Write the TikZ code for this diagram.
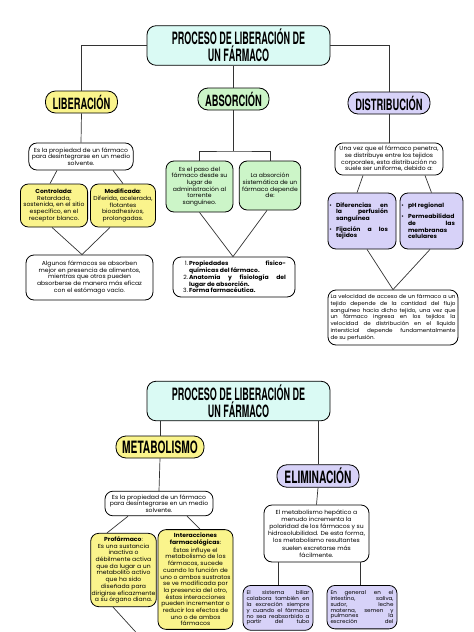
\documentclass[tikz,border=0pt]{standalone}
\usepackage{fontspec}
\setmainfont[FakeStretch=1.05]{Poppins}
\newfontfamily\titlefont[FakeStretch=0.53]{TeX Gyre Heros}
\newfontfamily\headfont[FakeStretch=0.6]{TeX Gyre Heros}
\hyphenpenalty=10000

\definecolor{cyanfill}{RGB}{218,250,244}
\definecolor{yellowfill}{RGB}{250,244,140}
\definecolor{greenfill}{RGB}{204,245,200}
\definecolor{lavfill}{RGB}{215,210,248}

\begin{document}
\begin{tikzpicture}[x=1pt,y=-1pt,
  titlebox/.style={draw,line width=0.8pt,fill=cyanfill,rounded corners=9pt,align=center,
    font=\titlefont\bfseries\fontsize{17}{17}\selectfont,minimum width=183pt,minimum height=36pt},
  headbox/.style={draw,line width=0.8pt,rounded corners=10pt,
    font=\headfont\bfseries\fontsize{15.5}{15.5}\selectfont,minimum height=22pt},
  notebox/.style={draw,line width=0.8pt,fill=white,rounded corners=8pt,align=center,inner xsep=3pt,
    font=\fontsize{5.8}{6.7}\selectfont},
  link/.style={draw=black!80,line width=0.7pt}]
  \useasboundingbox (0,0) rectangle (474,632);

  % page 1
  \node[titlebox] (tit1) at (238.5,45.5) {PROCESO DE LIBERACIÓN DE\\UN FÁRMACO};

  \node[headbox,fill=yellowfill,minimum width=72pt] (lib) at (81.5,102) {LIBERACIÓN};
  \node[headbox,fill=greenfill,minimum width=71pt] (abs) at (233.5,99) {ABSORCIÓN};
  \node[headbox,fill=lavfill,minimum width=82pt] (dist) at (389,103) {DISTRIBUCIÓN};

  \node[notebox,minimum width=104pt,minimum height=27pt] (lib1) at (81,156.5)
    {Es la propiedad de un fármaco\\para desintegrarse en un medio\\solvente.};
  \node[notebox,fill=yellowfill,minimum width=66pt,minimum height=43pt] (libc) at (54,205.5)
    {\textbf{Controlada}:\\Retardada,\\sostenida, en el sitio\\específico, en el\\receptor blanco.};
  \node[notebox,fill=yellowfill,minimum width=62pt,minimum height=43pt] (libm) at (123,205.5)
    {\textbf{Modificada}:\\Diferida, acelerada,\\flotantes\\bioadhesivos,\\prolongadas.};
  \node[notebox,minimum width=127pt,minimum height=45pt] (lib2) at (89.5,277.5)
    {Algunos fármacos se absorben\\mejor en presencia de alimentos,\\mientras que otros pueden\\absorberse de manera más eficaz\\con el estómago vacío.};

  \node[notebox,fill=greenfill,minimum width=67pt,minimum height=51pt] (absp) at (199.5,186.5)
    {Es el paso del\\fármaco desde su\\lugar de\\administración al\\torrente\\sanguíneo.};
  \node[notebox,fill=greenfill,minimum width=57pt,minimum height=49pt] (abss) at (270,185.5)
    {La absorción\\sistemática de un\\fármaco depende\\de:};
  \node[notebox,text width=104pt,inner xsep=9pt,minimum height=40pt,align=justify] (abs2) at (234,277)
    {\hangindent=7pt\hangafter=0\noindent\llap{1.\,}\textbf{Propiedades fisico-\linebreak químicas del fármaco.}\par
     \hangindent=7pt\hangafter=0\noindent\llap{2.\,}\textbf{Anatomía y fisiología del\linebreak lugar de absorción.}\par
     \hangindent=7pt\hangafter=0\noindent\llap{3.\,}\textbf{Forma farmacéutica.}\par};

  \node[notebox,minimum width=108pt,minimum height=32pt] (dist1) at (389,159)
    {Una vez que el fármaco penetra,\\se distribuye entre los tejidos\\corporales, esta distribución no\\suele ser uniforme, debido a:};
  \node[notebox,fill=lavfill,text width=52pt,inner xsep=8pt,minimum height=56pt,align=justify] (distl) at (362,221)
    {\noindent\llap{•\hspace{4pt}}\textbf{Diferencias en\linebreak la perfusión\linebreak sanguínea}\par\vspace{4pt}
     \noindent\llap{•\hspace{4pt}}\textbf{Fijación a los\linebreak tejidos}};
  \node[notebox,fill=lavfill,text width=47pt,inner xsep=8pt,minimum height=56pt,align=justify] (distr) at (431.5,221)
    {\noindent\llap{•\hspace{4pt}}\textbf{pH regional}\par\vspace{4pt}
     \noindent\llap{•\hspace{4pt}}\textbf{Permeabilidad\linebreak de las\linebreak membranas\newline celulares}};
  \node[notebox,text width=125pt,inner xsep=2.5pt,minimum height=55pt,align=justify,font=\fontsize{5.35}{6.7}\selectfont] (dist2) at (393,317.5)
    {La velocidad de acceso de un fármaco a un\linebreak tejido depende de la cantidad del flujo\linebreak
     sanguíneo hacia dicho tejido, una vez que\linebreak un fármaco ingresa en los tejidos la\linebreak
     velocidad de distribución en el líquido\linebreak intersticial depende fundamentalmente\linebreak de su perfusión.};

  \draw[link] (tit1.west) -| (lib.north);
  \draw[link] (tit1.east) -| (dist.north);
  \draw[link] (abs.north) -- (abs.north |- tit1.south);
  \draw[link] (lib.south) -- (lib1.north);
  \draw[link] ([xshift=-24pt]lib1.south) -- ([xshift=-4pt]libc.north);
  \draw[link] ([xshift=32pt]lib1.south) -- (libm.north);
  \draw[link] ([xshift=-2pt]libc.south) -- ([xshift=-7.5pt]lib2.north) -- ([xshift=-13pt]libm.south);
  \coordinate (absj) at (233.5,151);
  \draw[link] (abs.south) -- (absj);
  \draw[link] (absp.north) |- (absj) -| (abss.north);
  \draw[link] (absp.south) -- ([xshift=-1pt]abs2.north) -- ([xshift=-3pt]abss.south);
  \draw[link] (dist.south) -- (dist1.north);
  \draw[link] ([xshift=-26pt]dist1.south) -- ([xshift=-5pt]distl.north);
  \draw[link] ([xshift=36pt]dist1.south) -- (distr.north);
  \draw[link] ([xshift=5pt]distl.south) -- (dist2.north) -- ([xshift=-1.5pt]distr.south);

  % page 2
  \node[titlebox] (tit2) at (238.5,401) {PROCESO DE LIBERACIÓN DE\\UN FÁRMACO};

  \node[headbox,fill=yellowfill,minimum width=88pt,font=\headfont\bfseries\fontsize{17}{17}\selectfont] (met) at (160,447) {METABOLISMO};
  \node[headbox,fill=lavfill,minimum width=82pt,font=\headfont\bfseries\fontsize{17}{17}\selectfont] (eli) at (318,476) {ELIMINACIÓN};

  \node[notebox,minimum width=108pt,minimum height=24pt] (met1) at (159,503.5)
    {Es la propiedad de un fármaco\\para desintegrarse en un medio\\solvente.};
  \node[notebox,fill=yellowfill,minimum width=63pt,inner xsep=1pt,minimum height=70pt] (metp) at (123.5,570)
    {\textbf{Profármaco}:\\Es una sustancia\\inactiva o\\débilmente activa\\que da lugar a un\\metabolito activo\\que ha sido\\diseñada para\\dirigirse eficazmente\\a su órgano diana.};
  \node[notebox,fill=yellowfill,minimum width=75pt,inner xsep=1pt,minimum height=99pt] (meti) at (195.5,579.5)
    {\textbf{Interacciones}\\\textbf{farmacológicas}:\\Éstas influye el\\metabolismo de los\\fármacos, sucede\\cuando la función de\\uno o ambos sustratos\\se ve modificada por\\la presencia del otro,\\éstas interacciones\\pueden incrementar o\\reducir los efectos de\\uno o de ambos\\fármacos};

  \node[notebox,minimum width=105pt,minimum height=57pt,font=\fontsize{5.8}{7.2}\selectfont] (eli1) at (316.5,533.5)
    {El metabolismo hepático a\\menudo incrementa la\\polaridad de los fármacos y su\\hidrosolubilidad. De esta forma,\\los metabolismo resultantes\\suelen excretarse más\\fácilmente.};
  \node[notebox,fill=lavfill,text width=63pt,inner xsep=3.5pt,inner ysep=5pt,anchor=north,align=justify,font=\fontsize{5.3}{5.9}\selectfont] (elib) at (278,585)
    {\parfillskip=0pt El sistema biliar\linebreak colabora también en\linebreak la excreción siempre\linebreak
     y cuando el fármaco\linebreak no sea reabsorbido a\linebreak partir del tubo\par\vspace{30pt}};
  \node[notebox,fill=lavfill,text width=63pt,inner xsep=3.5pt,inner ysep=5pt,anchor=north,align=justify,font=\fontsize{5.3}{5.9}\selectfont] (elir) at (362,585)
    {\parfillskip=0pt En general en el\linebreak intestino, saliva,\linebreak sudor, leche\linebreak
     materna, semen y\linebreak pulmones la\linebreak excreción del\par\vspace{30pt}};

  \draw[link] (met.north) -- (met.north |- tit2.south);
  \draw[link] (eli.north) -- (eli.north |- tit2.south);
  \draw[link] (met.south) -- (met1.north);
  \draw[link] ([xshift=-31pt]met1.south) -- ([xshift=-16.5pt]metp.north);
  \draw[link] ([xshift=28pt]met1.south) -- ([xshift=4.5pt]meti.north);
  \coordinate (metj) at (143,640);
  \draw[link] ([xshift=-10.5pt]metp.south) -- (metj);
  \draw[link] (eli.south) -- (eli1.north);
  \draw[link] (elib.north) -- (elib.north |- eli1.south);
  \draw[link] ([xshift=-2pt]elir.north) -- ([xshift=-2pt]elir.north |- eli1.south);
\end{tikzpicture}
\end{document}
